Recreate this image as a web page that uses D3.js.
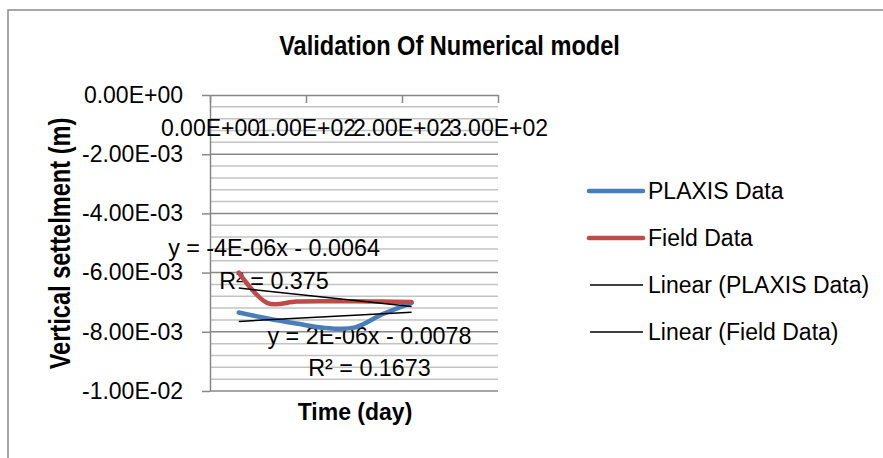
<!DOCTYPE html>
<html>
<head>
<meta charset="utf-8">
<script src="https://cdn.jsdelivr.net/npm/d3@7"></script>
<style>
  body { margin: 0; background: #fff; }
  text { font-family: "Liberation Sans", Arial, sans-serif; fill: #000; }
</style>
</head>
<body>
<div id="chart"></div>
<script>
// data
var days = [30, 60, 90, 120, 150, 180, 210];
var plaxisData = [-7.35e-3, -7.55e-3, -7.72e-3, -7.87e-3, -7.86e-3, -7.40e-3, -7.02e-3];
var fieldData = [-6.00e-3, -7.03e-3, -6.98e-3, -6.97e-3, -6.97e-3, -6.98e-3, -6.99e-3];

// trendlines (slope per day, intercept) as drawn on the chart
var trendPlaxis = [1.7e-6, -7.70e-3];
var trendField = [-3.45e-6, -6.42e-3];

var xTicks = [0, 100, 200, 300];
var yTicks = [0, -0.002, -0.004, -0.006, -0.008, -0.01];
var seriesNames = ["PLAXIS Data", "Field Data", "Linear (PLAXIS Data)", "Linear (Field Data)"];
var eqPlaxis = ["y = 2E-06x - 0.0078", "R² = 0.1673"];
var eqField = ["y = -4E-06x - 0.0064", "R² = 0.375"];

var W = 883, H = 458;
var blue = "#4a7ebb", red = "#be4b48";

var svg = d3.select("#chart").append("svg")
    .attr("width", W)
    .attr("height", H);

// chart area border (runs off right and bottom)
svg.append("rect")
    .attr("x", 8).attr("y", 10)
    .attr("width", 900).attr("height", 500)
    .attr("fill", "none")
    .attr("stroke", "#8a8a8a")
    .attr("stroke-width", 1.5);

// scales
var x = d3.scaleLinear().domain([0, 300]).range([210, 498]);
var y = d3.scaleLinear().domain([-0.01, 0]).range([391, 95]);

// excel-ish number format 0.00E+00
function sci(v) {
  var p = (+v).toExponential(2).split("e");
  var sign = p[1][0], n = p[1].slice(1);
  if (n.length < 2) n = "0" + n;
  return p[0] + "E" + sign + n;
}

// gridlines: minor every 0.0004, major every 0.002
var minor = d3.range(1, 25).map(function(i) { return -i * 0.0004; })
    .filter(function(v, i) { return (i + 1) % 5 != 0; });
svg.append("g").selectAll("line")
    .data(minor)
    .enter().append("line")
    .attr("x1", x(0)).attr("x2", x(300))
    .attr("y1", function(d) { return y(d); })
    .attr("y2", function(d) { return y(d); })
    .attr("stroke", "#c3c3c3")
    .attr("stroke-width", 1.5);

svg.append("g").selectAll("line")
    .data(yTicks.slice(1))
    .enter().append("line")
    .attr("x1", x(0)).attr("x2", x(300))
    .attr("y1", function(d) { return y(d); })
    .attr("y2", function(d) { return y(d); })
    .attr("stroke", "#888")
    .attr("stroke-width", 1.5);

// y axis
var yAxis = svg.append("g")
    .attr("transform", "translate(" + x(0) + ",0)")
    .call(d3.axisLeft(y).tickValues(yTicks).tickFormat(sci)
      .tickSize(8).tickSizeOuter(0).tickPadding(19));

// x axis sits at y = 0 (top), ticks point down
var xAxis = svg.append("g")
    .attr("transform", "translate(0," + y(0) + ")")
    .call(d3.axisBottom(x).tickValues(xTicks).tickFormat(sci)
      .tickSize(8).tickSizeOuter(0).tickPadding(17));

[yAxis, xAxis].forEach(function(a) {
  a.select(".domain").attr("stroke", "#888").attr("stroke-width", 1.5);
  a.selectAll(".tick line").attr("stroke", "#888").attr("stroke-width", 1.5);
  a.selectAll("text")
    .attr("fill", "#000")
    .style("font-family", "'Liberation Sans', Arial, sans-serif")
    .style("font-size", "23px");
});

// title and axis titles
svg.append("text")
    .attr("transform", "translate(449.5,55) scale(1,1.2)")
    .attr("text-anchor", "middle")
    .style("font-size", "23.6px")
    .style("font-weight", "bold")
    .text("Validation Of Numerical model");

svg.append("text")
    .attr("transform", "translate(70,243.5) rotate(-90) scale(1,1.25)")
    .attr("text-anchor", "middle")
    .style("font-size", "23.6px")
    .style("font-weight", "bold")
    .text("Vertical settelment (m)");

svg.append("text")
    .attr("x", 355).attr("y", 420)
    .attr("text-anchor", "middle")
    .style("font-size", "23px")
    .style("font-weight", "bold")
    .text("Time (day)");

// trendline equations
function eq(lines, cx, by) {
  svg.append("g").selectAll("text")
    .data(lines)
    .enter().append("text")
    .attr("x", cx)
    .attr("y", function(d, i) { return by + i * 32.5; })
    .attr("text-anchor", "middle")
    .style("font-size", "23.3px")
    .text(function(d) { return d; });
}
eq(eqField, 274, 256);
eq(eqPlaxis, 369.5, 343.5);

// series
var line = d3.line()
    .x(function(d) { return x(d[0]); })
    .y(function(d) { return y(d[1]); })
    .curve(d3.curveCatmullRom);

var series = [
  {vals: plaxisData, color: blue, trend: trendPlaxis},
  {vals: fieldData, color: red, trend: trendField}
];

series.forEach(function(s) {
  svg.append("path")
    .datum(days.map(function(d, i) { return [d, s.vals[i]]; }))
    .attr("fill", "none")
    .attr("stroke", s.color)
    .attr("stroke-width", 4.5)
    .attr("stroke-linecap", "round")
    .attr("stroke-linejoin", "round")
    .attr("d", line);
});

series.forEach(function(s) {
  var x0 = days[0], x1 = days[days.length - 1];
  svg.append("line")
    .attr("x1", x(x0)).attr("y1", y(s.trend[0] * x0 + s.trend[1]))
    .attr("x2", x(x1)).attr("y2", y(s.trend[0] * x1 + s.trend[1]))
    .attr("stroke", "#000")
    .attr("stroke-width", 1.5);
});

// legend
var legendColors = [blue, red, "#000", "#000"];
var legend = svg.append("g").selectAll("g")
    .data(seriesNames)
    .enter().append("g")
    .attr("transform", function(d, i) { return "translate(589," + (191 + i * 47) + ")"; });

legend.append("line")
    .attr("x1", function(d, i) { return i < 2 ? 0 : 1; })
    .attr("x2", 54)
    .attr("stroke", function(d, i) { return legendColors[i]; })
    .attr("stroke-width", function(d, i) { return i < 2 ? 4.5 : 1.5; })
    .attr("stroke-linecap", function(d, i) { return i < 2 ? "round" : "butt"; });

legend.append("text")
    .attr("x", 59)
    .attr("dy", "0.35em")
    .style("font-size", "23px")
    .text(function(d) { return d; });
</script>
</body>
</html>
